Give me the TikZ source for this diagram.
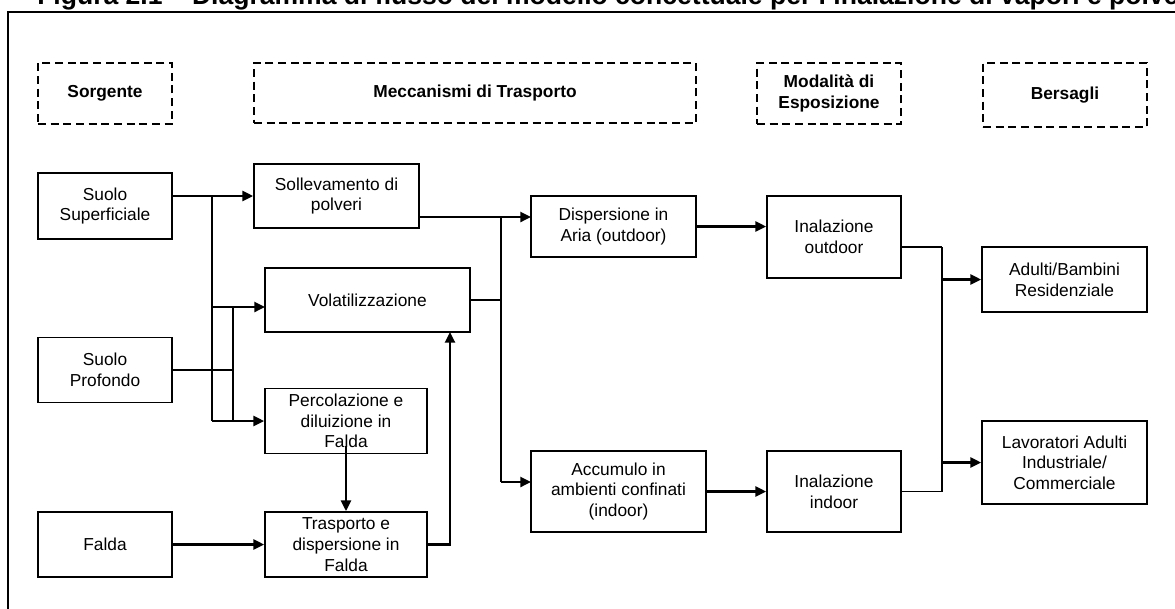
\documentclass[tikz,border=0pt]{standalone}
\usepackage{fontspec}
\setmainfont{Liberation Sans}
\usetikzlibrary{arrows.meta,calc}
\begin{document}
\begin{tikzpicture}[x=0.75pt,y=-0.75pt,
  box/.style={draw,line width=1.3pt,rectangle,inner sep=0pt,align=center,font=\fontsize{13}{15.5}\selectfont},
  hdr/.style={draw,line width=1.2pt,dash pattern=on 6pt off 3.5pt,rectangle,inner sep=0pt,align=center,font=\fontsize{13}{15.5}\selectfont\bfseries},
  sz/.style 2 args={minimum width=#1*0.75pt,minimum height=#2*0.75pt},
  arr/.style={line width=1.7pt,-{Triangle[length=8pt,width=7.5pt]}},
  plain/.style={line width=1.2pt},
  frame/.style={line width=1.6pt}]
\useasboundingbox (0,0) rectangle (1175,608);
\clip (0,0) rectangle (1175,608);

% title and frame
\node[anchor=base west,inner sep=0pt,font=\fontsize{19.9}{24}\selectfont\bfseries] (title) at (37,4)
  {Figura 2.1 \textendash\ Diagramma di flusso del modello concettuale per l’inalazione di vapori e polveri};
\draw[frame] (8,700) -- (8,12) -- (1300,12);

% headers
\node[hdr,sz={134}{61}] (hsrc) at (105,93.5) {Sorgente};
\node[hdr,sz={442}{60}] (hmec) at (475,93) {Meccanismi di Trasporto};
\node[hdr,sz={144}{61}] (hmod) at (829,93.5) {Modalità di\\Esposizione};
\node[hdr,sz={164}{64}] (hber) at (1065,95) {Bersagli};

% sources
\node[box,sz={134}{66}] (SuoloSup) at (105,206) {Suolo\\Superficiale};
\node[box,sz={134}{65}] (SuoloProf) at (105,370) {Suolo\\Profondo};
\node[box,sz={134}{65}] (Falda) at (105,544.5) {Falda};

% transport
\node[box,sz={165}{64}] (Soll) at (336.5,196) {Sollevamento di\\polveri};
\node[box,sz={205}{64}] (Volat) at (367.5,300) {Volatilizzazione};
\node[box,sz={162}{65}] (Perc) at (346,421) {Percolazione e\\diluizione in\\Falda};
\node[box,sz={162}{65}] (Trasp) at (346,544.5) {Trasporto e\\dispersione in\\Falda};
\node[box,sz={165}{61}] (Disp) at (613.5,226.5) {Dispersione in\\Aria (outdoor)};
\node[box,sz={175}{81}] (Accu) at (618.5,491.5) {Accumulo in\\ambienti confinati\\(indoor)};

% exposure
\node[box,sz={134}{82}] (InOut) at (834,237) {Inalazione\\outdoor};
\node[box,sz={134}{81}] (InIn) at (834,491.5) {Inalazione\\indoor};

% targets
\node[box,sz={165}{65}] (Adulti) at (1064.5,279.5) {Adulti/Bambini\\Residenziale};
\node[box,sz={165}{83}] (Lavor) at (1064.5,462.5) {Lavoratori Adulti\\Industriale/\\Commerciale};

% helper coordinates
\coordinate (b1) at (212,0);
\coordinate (b2) at (233,0);
\coordinate (vin) at (265,307);
\coordinate (vb) at (450,332);
\coordinate (din) at (531,217);
\coordinate (ain) at (531,482);
\coordinate (c1) at (501,0);
\coordinate (oo) at (901,247);
\coordinate (c2) at (942,0);
\coordinate (pstart) at ($(Perc.south)+(0,-8)$);

% source connectors
\draw[arr] (SuoloSup.east |- Soll.west) -- (Soll.west);
\draw[plain] (b1 |- Soll.west) -- (b1 |- Perc.west);
\draw[arr] (b1 |- vin) -- (vin);
\draw[arr] (b1 |- Perc.west) -- (Perc.west);
\draw[plain] (b2 |- vin) -- (b2 |- Perc.west);
\draw[plain] (SuoloProf.east) -- (b2 |- SuoloProf.east);
\draw[arr] (pstart) -- (Trasp.north);
\draw[arr] (Falda.east) -- (Trasp.west);
\draw[arr] (Trasp.east) -| (vb);

% transport collectors
\draw[arr] (Soll.east |- din) -- (din);
\draw[plain] (Volat.east) -- (c1 |- Volat.east);
\draw[plain] (c1 |- din) -- (c1 |- ain);
\draw[arr] (c1 |- ain) -- (ain);
\draw[arr] (Disp.east) -- (InOut.west |- Disp.east);
\draw[arr] (Accu.east) -- (InIn.west |- Accu.east);

% exposure to targets
\draw[plain] (oo) -- (c2 |- oo);
\draw[plain] (InIn.east) -- (c2 |- InIn.east);
\draw[plain] (c2 |- oo) -- (c2 |- InIn.east);
\draw[arr] (c2 |- Adulti.west) -- (Adulti.west);
\draw[arr] (c2 |- Lavor.west) -- (Lavor.west);
\end{tikzpicture}
\end{document}
